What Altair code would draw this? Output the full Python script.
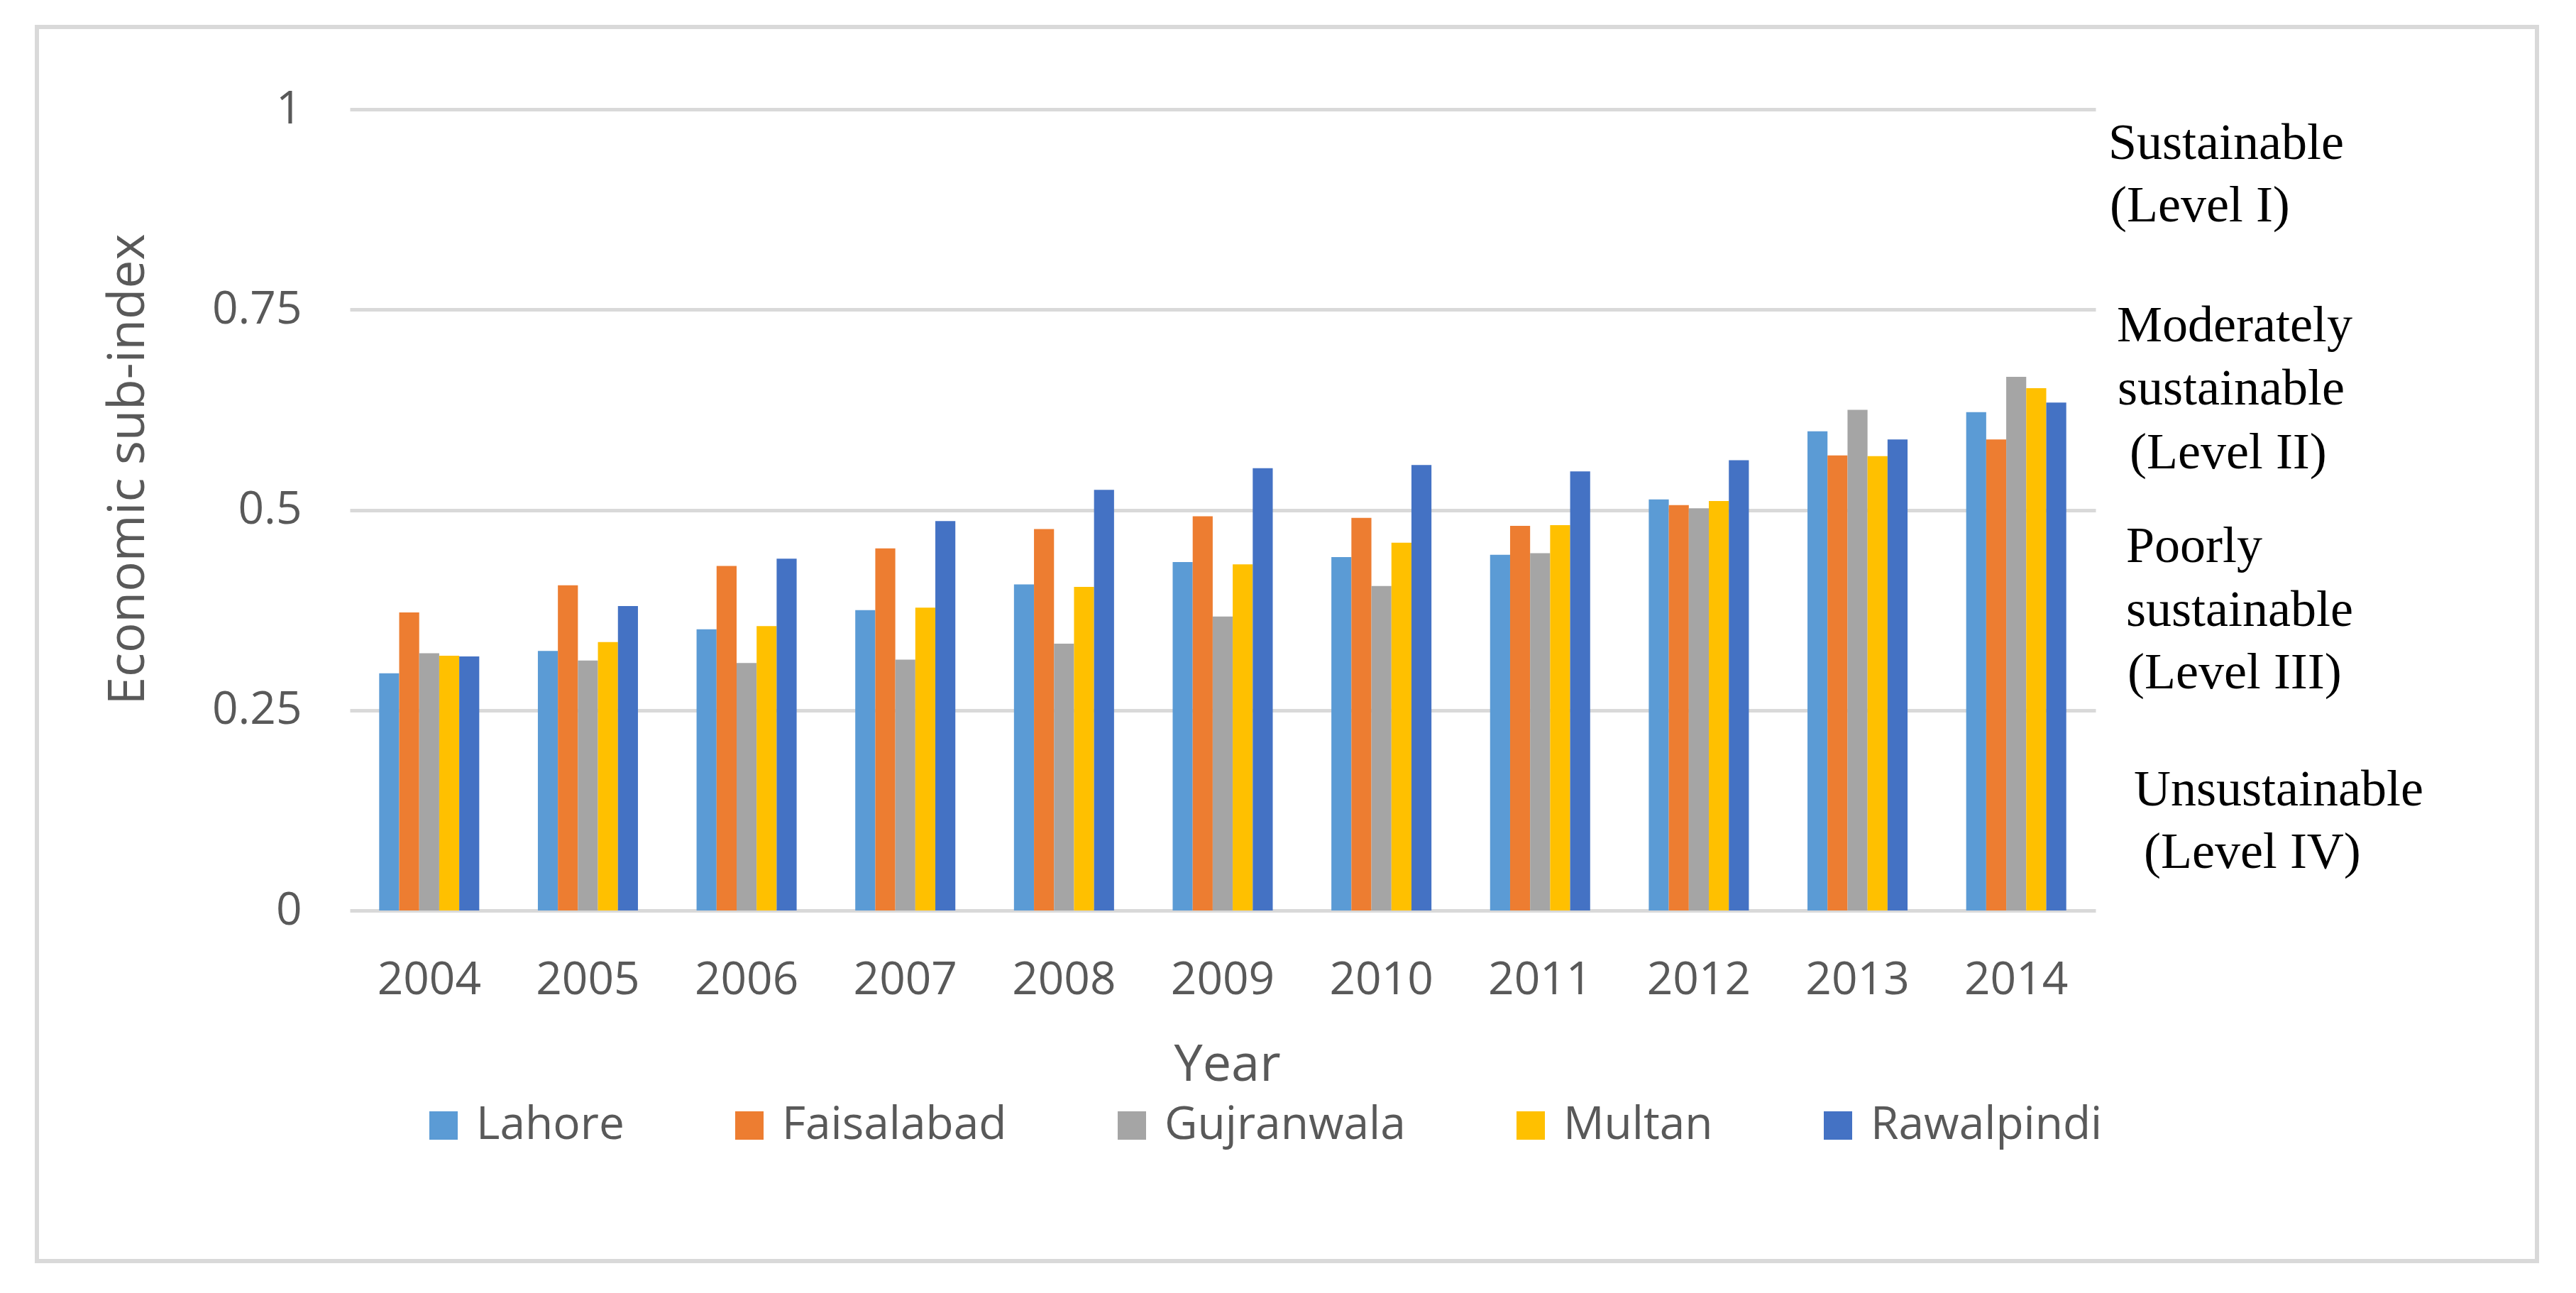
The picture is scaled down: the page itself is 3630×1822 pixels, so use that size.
import altair as alt
import pandas as pd

years = ["2004", "2005", "2006", "2007", "2008", "2009", "2010", "2011", "2012", "2013", "2014"]
cities = ["Lahore", "Faisalabad", "Gujranwala", "Multan", "Rawalpindi"]

lahore     = [0.296, 0.324, 0.351, 0.375, 0.407, 0.435, 0.441, 0.444, 0.513, 0.598, 0.622]
faisalabad = [0.372, 0.406, 0.430, 0.452, 0.476, 0.492, 0.490, 0.480, 0.506, 0.568, 0.588]
gujranwala = [0.321, 0.312, 0.309, 0.313, 0.333, 0.367, 0.405, 0.446, 0.502, 0.625, 0.666]
multan     = [0.318, 0.335, 0.355, 0.378, 0.404, 0.432, 0.459, 0.481, 0.511, 0.567, 0.652]
rawalpindi = [0.317, 0.380, 0.439, 0.486, 0.525, 0.552, 0.556, 0.548, 0.562, 0.588, 0.634]

colors = ["#5b9bd5", "#ed7d31", "#a5a5a5", "#ffc000", "#4472c4"]

level_lines = [
    "Sustainable", "(Level I)",
    "Moderately", "sustainable", "(Level II)",
    "Poorly", "sustainable", "(Level III)",
    "Unsustainable", "(Level IV)",
]

series = [lahore, faisalabad, gujranwala, multan, rawalpindi]
rows = []
for city, vals in zip(cities, series):
    for y, v in zip(years, vals):
        rows.append({"Year": y, "City": city, "Value": v})
df = pd.DataFrame(rows)

bars = alt.Chart(df).mark_bar().encode(
    x=alt.X(
        "Year:N",
        sort=years,
        scale=alt.Scale(paddingInner=0.3694, paddingOuter=0.1847),
        axis=alt.Axis(
            title="Year",
            labelAngle=0,
            labelFontSize=64,
            labelFont="Open Sans",
            labelColor="#595959",
            labelPadding=98,
            labelBaseline="middle",
            ticks=False,
            domain=False,
            grid=False,
            titleFontSize=72,
            titleFont="Open Sans",
            titleFontWeight="normal",
            titleColor="#595959",
            titleY=217,
            titleX=1236,
            titleBaseline="middle",
        ),
    ),
    xOffset=alt.XOffset(
        "City:N", sort=cities, scale=alt.Scale(paddingInner=0, paddingOuter=0)
    ),
    y=alt.Y(
        "Value:Q",
        scale=alt.Scale(domain=[0, 1], nice=False, zero=True),
        axis=alt.Axis(
            title="Economic sub-index",
            values=[0, 0.25, 0.5, 0.75, 1],
            labelExpr="toString(datum.value)",
            labelFontSize=64,
            labelFont="Open Sans",
            labelColor="#595959",
            labelPadding=68,
            ticks=False,
            domain=False,
            grid=True,
            gridColor="#d9d9d9",
            gridWidth=5,
            titleFontSize=71,
            titleFont="Open Sans",
            titleFontWeight="normal",
            titleColor="#595959",
            titleAngle=270,
            titleX=-312,
            titleY=507,
            titleAlign="center",
            titleBaseline="middle",
        ),
    ),
    color=alt.Color(
        "City:N",
        sort=cities,
        scale=alt.Scale(domain=cities, range=colors),
        legend=alt.Legend(
            title=None,
            orient="none",
            direction="horizontal",
            legendX=100,
            legendY=1400,
            symbolType="square",
            symbolSize=1600,
            symbolStrokeWidth=0,
            labelFontSize=64,
            labelFont="Open Sans",
            labelColor="#595959",
            labelLimit=2000,
            labelOffset=14,
            columnPadding=144,
        ),
    ),
)

border = alt.Chart(pd.DataFrame({"k": [0]})).mark_rect(
    filled=False, stroke="#d9d9d9", strokeWidth=6
).encode(
    x=alt.value(-441), x2=alt.value(3082), y=alt.value(-116), y2=alt.value(1623)
)

# layout of the level annotations (pixel x, baseline y relative to plot origin)
level_layout = [
    (2478, 70), (2480, 158),
    (2490, 327), (2491, 416), (2508, 506),
    (2503, 638), (2503, 728), (2505, 816),
    (2514, 981), (2528, 1069),
]

texts = []
for line, (px, py) in zip(level_lines, level_layout):
    texts.append(
        alt.Chart(pd.DataFrame({"t": [line]})).mark_text(
            align="left", baseline="alphabetic", font="Liberation Serif",
            fontSize=72, color="#000000"
        ).encode(text="t:N", x=alt.value(px), y=alt.value(py))
    )

chart = alt.layer(border, bars, *texts).properties(
    width=2460,
    height=1129,
    autosize=alt.AutoSizeParams(type="none"),
    padding={"left": 485, "top": 146, "right": 669, "bottom": 531},
    background="white",
).configure_view(strokeWidth=0)

chart.save("out.html", embed_options={"renderer": "svg", "actions": False})
